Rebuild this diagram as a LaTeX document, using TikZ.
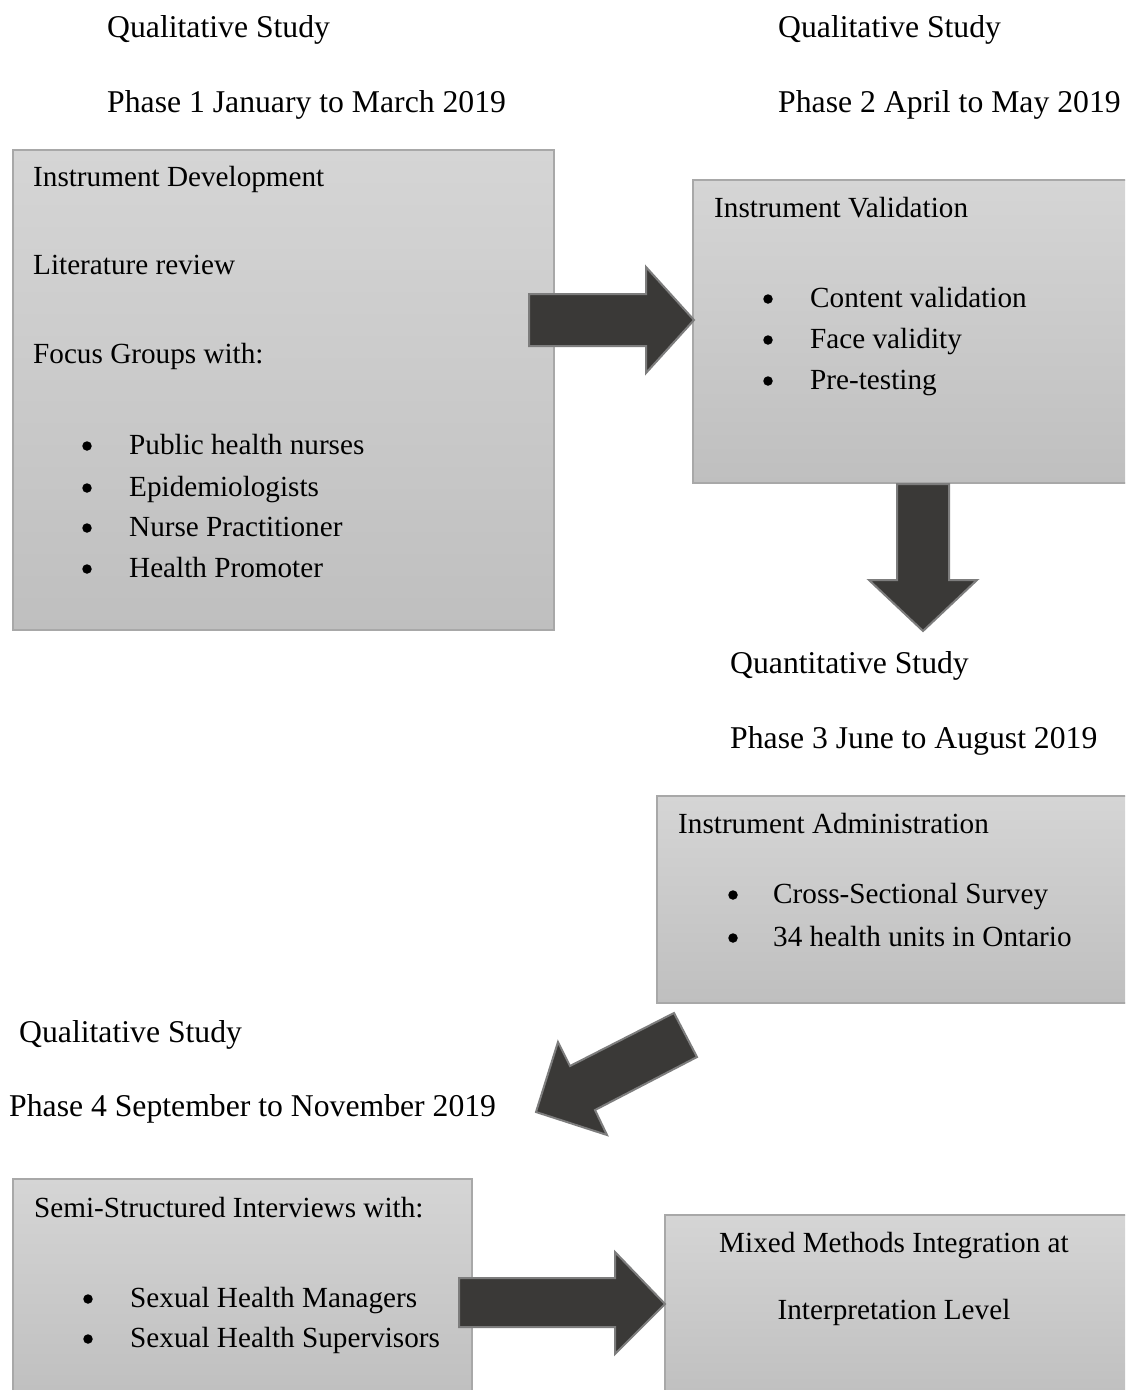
\documentclass[tikz,border=0pt]{standalone}
\usepackage{fontspec}
\setmainfont{Liberation Serif}
\definecolor{boxtop}{RGB}{213,213,213}
\definecolor{boxbot}{RGB}{191,191,191}
\definecolor{boxline}{RGB}{168,168,168}
\definecolor{arrfill}{RGB}{58,57,55}
\definecolor{arrline}{RGB}{125,125,125}
\begin{document}
\begin{tikzpicture}[x=1pt,y=-1pt,
  box/.style={draw=boxline, line width=1.3pt, top color=boxtop, bottom color=boxbot,
    rectangle, anchor=north west, outer sep=0pt, inner sep=0pt},
  blockarrow/.style={draw=arrline, line width=2pt, fill=arrfill, line join=miter},
  hdr/.style={anchor=base west, inner sep=0pt, font=\fontsize{31.7}{38}\selectfont},
  txt/.style={anchor=base west, inner sep=0pt, font=\fontsize{29.2}{35}\selectfont},
  ctxt/.style={anchor=base, inner sep=0pt, font=\fontsize{29.2}{35}\selectfont},
  bul/.style={circle, fill=black, inner sep=0pt, minimum size=9.5pt, yshift=8pt}]
\useasboundingbox (0,0) rectangle (1125,1390);
\clip (0,0) rectangle (1125,1390);
\fill[white] (0,0) rectangle (1125,1390);

% headers
\node[hdr] (h1a) at (107,37) {Qualitative Study};
\node[hdr] (h1b) at (107,112) {Phase 1 January to March 2019};
\node[hdr] (h2a) at (778,37) {Qualitative Study};
\node[hdr] (h2b) at (778,112) {Phase 2 April to May 2019};
\node[hdr] (h3a) at (730,673) {Quantitative Study};
\node[hdr] (h3b) at (730,748) {Phase 3 June to August 2019};
\node[hdr] (h4a) at (19,1042) {Qualitative Study};
\node[hdr] (h4b) at (9,1116) {Phase 4 September to November 2019};

% boxes
\node[box, minimum width=541pt, minimum height=480pt] (b1) at (13,150) {};
\node[box, minimum width=445pt, minimum height=303pt] (b2) at (693,180) {};
\node[box, minimum width=480pt, minimum height=207pt] (b3) at (657,796) {};
\node[box, minimum width=459pt, minimum height=220pt] (b4) at (13,1179) {};
\node[box, minimum width=472pt, minimum height=185pt] (b5) at (665,1215) {};

% box 1 text
\node[txt] (t1a) at (33,186) {Instrument Development};
\node[txt] (t1b) at (33,274) {Literature review};
\node[txt] (t1c) at (33,363) {Focus Groups with:};
\node[bul] (u11) at (87,454) {};
\node[txt] (t11) at (129,454) {Public health nurses};
\node[bul] (u12) at (87,496) {};
\node[txt] (t12) at (129,496) {Epidemiologists};
\node[bul] (u13) at (87,536) {};
\node[txt] (t13) at (129,536) {Nurse Practitioner};
\node[bul] (u14) at (87,577) {};
\node[txt] (t14) at (129,577) {Health Promoter};

% box 2 text
\node[txt] (t2a) at (714,217) {Instrument Validation};
\node[bul] (u21) at (768,307) {};
\node[txt] (t21) at (810,307) {Content validation};
\node[bul] (u22) at (768,348) {};
\node[txt] (t22) at (810,348) {Face validity};
\node[bul] (u23) at (768,389) {};
\node[txt] (t23) at (810,389) {Pre-testing};

% box 3 text
\node[txt] (t3a) at (678,833) {Instrument Administration};
\node[bul] (u31) at (733,903) {};
\node[txt] (t31) at (773,903) {Cross-Sectional Survey};
\node[bul] (u32) at (733,946) {};
\node[txt] (t32) at (773,946) {34 health units in Ontario};

% box 4 text
\node[txt] (t4a) at (34,1217) {Semi-Structured Interviews with:};
\node[bul] (u41) at (88,1307) {};
\node[txt] (t41) at (130,1307) {Sexual Health Managers};
\node[bul] (u42) at (88,1347) {};
\node[txt] (t42) at (130,1347) {Sexual Health Supervisors};

% box 5 text
\node[ctxt] (t5a) at (894,1252) {Mixed Methods Integration at};
\node[ctxt] (t5b) at (894,1319) {Interpretation Level};

% block arrows
\draw[blockarrow] (529,294) -- (646,294) -- (646,267) -- (694,320) -- (646,373) -- (646,346) -- (529,346) -- cycle;
\draw[blockarrow] (897,484) -- (949,484) -- (949,580) -- (977,580) -- (923,631) -- (869,580) -- (897,580) -- cycle;
\draw[blockarrow] (674,1013) -- (697,1057) -- (595,1110) -- (607,1135) -- (536,1112) -- (558,1042) -- (570,1066) -- cycle;
\draw[blockarrow] (459,1278) -- (615,1278) -- (615,1252) -- (665,1304) -- (615,1354) -- (615,1327) -- (459,1327) -- cycle;
\end{tikzpicture}
\end{document}
